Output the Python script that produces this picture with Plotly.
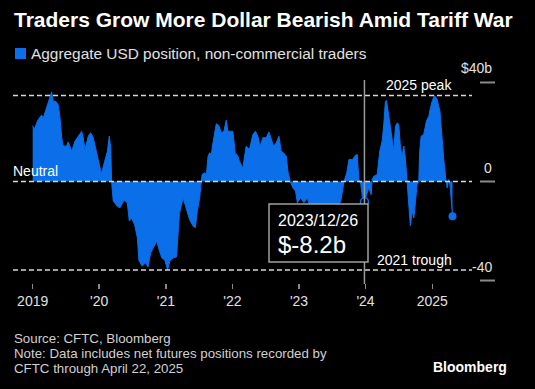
import plotly.graph_objects as go

# ---- data ----
dates = [
    "2019-01-01", "2019-01-09", "2019-01-31", "2019-02-19", "2019-02-28", "2019-03-19",
    "2019-04-06", "2019-04-15", "2019-04-24", "2019-05-07", "2019-05-21", "2019-05-31",
    "2019-06-09", "2019-06-18", "2019-07-06", "2019-07-15", "2019-08-03", "2019-08-21",
    "2019-09-08", "2019-09-27", "2019-10-05", "2019-10-15", "2019-11-02", "2019-11-15",
    "2019-11-29", "2019-12-12", "2020-01-13", "2020-01-31", "2020-02-15", "2020-02-25",
    "2020-03-04", "2020-03-09", "2020-03-18", "2020-04-09", "2020-04-24", "2020-05-16",
    "2020-06-03", "2020-06-14", "2020-06-25", "2020-07-13", "2020-07-19", "2020-07-28",
    "2020-08-06", "2020-08-24", "2020-09-11", "2020-09-24", "2020-10-09", "2020-10-27",
    "2020-11-12", "2020-11-24", "2020-12-09", "2020-12-26", "2021-01-10", "2021-01-23",
    "2021-02-10", "2021-02-28", "2021-03-16", "2021-04-05", "2021-04-23", "2021-05-11",
    "2021-05-30", "2021-06-11", "2021-06-22", "2021-07-05", "2021-07-18", "2021-08-01",
    "2021-08-11", "2021-08-20", "2021-08-29", "2021-09-07", "2021-09-16", "2021-10-04",
    "2021-10-17", "2021-11-01", "2021-11-15", "2021-11-28", "2021-12-07", "2022-01-03",
    "2022-01-16", "2022-01-31", "2022-02-08", "2022-02-27", "2022-03-17", "2022-04-04",
    "2022-04-23", "2022-05-07", "2022-05-20", "2022-06-02", "2022-06-17", "2022-07-05",
    "2022-07-20", "2022-08-02", "2022-08-14", "2022-08-29", "2022-09-13", "2022-09-25",
    "2022-10-08", "2022-10-23", "2022-11-01", "2022-11-14", "2022-11-29", "2022-12-13",
    "2022-12-23", "2023-01-10", "2023-01-28", "2023-02-16", "2023-03-06", "2023-04-03",
    "2023-04-30", "2023-05-28", "2023-06-24", "2023-07-21", "2023-08-18", "2023-09-05",
    "2023-09-20", "2023-10-02", "2023-10-21", "2023-11-08", "2023-11-17", "2023-11-21",
    "2023-11-26", "2023-12-06", "2023-12-15", "2023-12-26", "2024-01-06", "2024-01-19",
    "2024-02-01", "2024-02-06", "2024-02-15", "2024-03-05", "2024-03-19", "2024-04-01",
    "2024-04-10", "2024-04-19", "2024-04-25", "2024-05-02", "2024-05-13", "2024-05-26",
    "2024-06-04", "2024-06-13", "2024-06-23", "2024-07-01", "2024-07-11", "2024-07-20",
    "2024-07-29", "2024-08-07", "2024-08-16", "2024-08-25", "2024-09-03", "2024-09-13",
    "2024-09-22", "2024-10-01", "2024-10-10", "2024-10-19", "2024-10-24", "2024-11-01",
    "2024-11-15", "2024-11-30", "2024-12-13", "2024-12-22", "2025-01-03", "2025-01-14",
    "2025-01-28", "2025-02-12", "2025-02-21", "2025-03-06", "2025-03-17", "2025-03-24",
    "2025-04-01", "2025-04-08", "2025-04-15", "2025-04-22",
]
values = [
    22.5, 21.0, 25.0, 26.8, 25.7, 29.8,
    33.8, 36.2, 32.4, 32.4, 31.0, 25.7,
    17.7, 14.3, 14.3, 16.0, 12.2, 16.3,
    18.3, 20.3, 17.7, 12.9, 18.3, 19.7,
    17.7, 13.6, 3.1, 8.2, 12.2, 18.3,
    13.6, 0.0, -8.0, -10.0, -10.6, -7.5,
    -8.6, -16.0, -14.7, -17.4, -19.4, -22.7,
    -32.0, -34.2, -32.8, -34.6, -28.8, -26.5,
    -24.1, -27.5, -30.8, -31.8, -35.7, -32.0,
    -30.8, -30.5, -13.0, -6.6, -11.5, -15.5,
    -18.0, -18.7, -12.0, -6.6, 2.8, 3.5,
    2.8, 10.2, 11.6, 10.9, 15.6, 23.3,
    22.7, 19.7, 20.3, 24.8, 20.3, 20.3,
    11.6, 10.2, 8.2, 5.5, 14.3, 12.9,
    19.0, 20.3, 18.3, 14.3, 17.7, 17.7,
    20.0, 17.0, 14.3, 15.6, 18.3, 12.2,
    11.6, 10.2, 4.2, 0.0, -2.6, -3.9,
    -8.6, -6.6, -8.6, -6.6, -12.0, -10.0,
    -14.0, -11.0, -15.0, -12.0, -8.0, 0.0,
    3.5, 8.9, 8.9, 10.6, 10.9, 5.5,
    0.8, -1.2, -6.6, -8.2, -5.3, -2.6,
    -5.3, 0.8, 2.1, 2.8, 12.2, 16.3,
    23.0, 32.4, 32.7, 28.4, 23.7, 17.0,
    12.2, 22.3, 23.7, 23.0, 13.6, 10.2,
    14.3, 8.9, 0.0, -8.0, -18.0, -12.0,
    -14.7, -8.0, -1.2, 0.0, 12.2, 18.3,
    19.0, 24.4, 26.4, 29.8, 33.1, 34.7,
    33.1, 28.4, 19.0, 8.2, 0.8, -2.6,
    0.8, -1.2, -7.3, -14.0,
]

tick_dates = ["2019-01-01", "2020-01-01", "2021-01-01", "2022-01-01",
              "2023-01-01", "2024-01-01", "2025-01-01"]
tick_labels = ["2019", "'20", "'21", "'22", "'23", "'24", "2025"]

y_ticks = [40, 0, -40]
y_tick_labels = ["$40b", "0", "-40"]

peak_value = 34.7
trough_value = -35.7
highlight_date = "2023-12-26"
highlight_value = -8.2

footer_lines = [
    "Source: CFTC, Bloomberg",
    "Note: Data includes net futures positions recorded by",
    "CFTC through April 22, 2025",
]

BLUE = "#0a6fe8"
FONT = "Liberation Sans, Arial, sans-serif"

fig = go.Figure()
fig.add_trace(go.Scatter(
    x=dates, y=values, mode="lines", fill="tozeroy",
    line=dict(color=BLUE, width=1), fillcolor=BLUE, hoverinfo="skip",
    showlegend=False,
))
# highlighted point
fig.add_trace(go.Scatter(
    x=[highlight_date], y=[highlight_value], mode="markers",
    marker=dict(size=8, color="black", line=dict(color=BLUE, width=1.5)),
    showlegend=False, hoverinfo="skip",
))
# last point
fig.add_trace(go.Scatter(
    x=[dates[-1]], y=[values[-1]], mode="markers",
    marker=dict(size=8, color=BLUE), showlegend=False, hoverinfo="skip",
))

L, R, T, B = 13, 63, 80, 106
W, H = 535, 389
PW = W - L - R
PH = H - T - B


def px(x):
    return (x - L) / PW


def py(y):
    return (H - B - y) / PH


shapes = []
dash = "5px,3px"
for v in [peak_value, 0, trough_value]:
    shapes.append(dict(type="line", xref="paper", yref="y", x0=0, x1=1, y0=v, y1=v,
                       line=dict(color="#d8d8d8", width=1.5, dash=dash), layer="above"))
# right axis tick marks
for v in y_ticks:
    shapes.append(dict(type="line", xref="paper", yref="y", x0=px(480), x1=px(495), y0=v, y1=v,
                       line=dict(color="#8a8a8a", width=2)))
# vertical highlight line
shapes.append(dict(type="line", xref="x", yref="paper", x0=highlight_date, x1=highlight_date,
                   y0=-0.005, y1=1.0, line=dict(color="#9a9a9a", width=1.5), layer="above"))
# tooltip box
shapes.append(dict(type="rect", xref="paper", yref="paper", x0=px(269), x1=px(368),
                   y0=py(262), y1=py(204), fillcolor="black",
                   line=dict(color="#a0a0a0", width=1.5), layer="above"))
# legend swatch
shapes.append(dict(type="rect", xref="paper", yref="paper", x0=px(15), x1=px(26),
                   y0=py(59), y1=py(48), fillcolor=BLUE, line=dict(width=0)))

annotations = [
    dict(text="<b>Traders Grow More Dollar Bearish Amid Tariff War</b>", xref="paper", yref="paper",
         x=px(12), y=py(20), xanchor="left", yanchor="middle", showarrow=False,
         font=dict(family=FONT, size=21, color="white")),
    dict(text="Aggregate USD position, non-commercial traders", xref="paper", yref="paper",
         x=px(29), y=py(53), xanchor="left", yanchor="middle", showarrow=False,
         font=dict(family=FONT, size=15.4, color="#e0e0e0")),
    dict(text="Neutral", xref="paper", yref="y", x=0, y=0, xanchor="left", yanchor="bottom",
         yshift=1, xshift=-2, showarrow=False, font=dict(family=FONT, size=14, color="white")),
    dict(text="2025 peak", xref="paper", yref="y", x=px(454), y=peak_value, xanchor="right",
         yanchor="bottom", yshift=1, showarrow=False, font=dict(family=FONT, size=14, color="white")),
    dict(text="2021 trough", xref="paper", yref="y", x=px(454), y=trough_value, xanchor="right",
         yanchor="bottom", yshift=0, showarrow=False, font=dict(family=FONT, size=14, color="white")),
    dict(text="2023/12/26", xref="paper", yref="paper", x=px(276), y=py(221), xanchor="left",
         yanchor="middle", showarrow=False, font=dict(family=FONT, size=16, color="white")),
    dict(text="$-8.2b", xref="paper", yref="paper", x=px(276), y=py(244), xanchor="left",
         yanchor="middle", showarrow=False, font=dict(family=FONT, size=24, color="white")),
    dict(text="<b>Bloomberg</b>", xref="paper", yref="paper", x=px(509), y=py(367), xanchor="right",
         yanchor="middle", showarrow=False, font=dict(family=FONT, size=14, color="white")),
]
for i, line in enumerate(footer_lines):
    annotations.append(dict(text=line, xref="paper", yref="paper", x=px(12), y=py(338 + 15 * i),
                            xanchor="left", yanchor="middle", showarrow=False,
                            font=dict(family=FONT, size=13.3, color="#d0d0d0")))
for v, t in zip(y_ticks, y_tick_labels):
    annotations.append(dict(text=t, xref="paper", yref="y", x=px(494), y=v, xanchor="right",
                            yanchor="bottom", yshift=4, showarrow=False,
                            font=dict(family=FONT, size=14, color="#e0e0e0")))

fig.update_layout(
    width=W, height=H,
    margin=dict(l=L, r=R, t=T, b=B, autoexpand=False),
    paper_bgcolor="black", plot_bgcolor="black",
    xaxis=dict(type="date", range=["2018-09-15", "2025-08-07"], showgrid=False, zeroline=False,
               showline=False, ticks="outside", ticklen=5, tickwidth=1.5, tickcolor="#8a8a8a",
               tickvals=tick_dates, ticktext=tick_labels, automargin=False,
               tickfont=dict(family=FONT, size=14, color="#e0e0e0")),
    yaxis=dict(range=[-41, 41], showgrid=False, zeroline=False, showticklabels=False,
               showline=False, automargin=False),
    shapes=shapes, annotations=annotations, showlegend=False,
)

fig.write_html(
    "out.html",
    config={"displayModeBar": False, "staticPlot": True},
    post_script="document.body.style.margin='0';document.body.style.background='black';",
)
